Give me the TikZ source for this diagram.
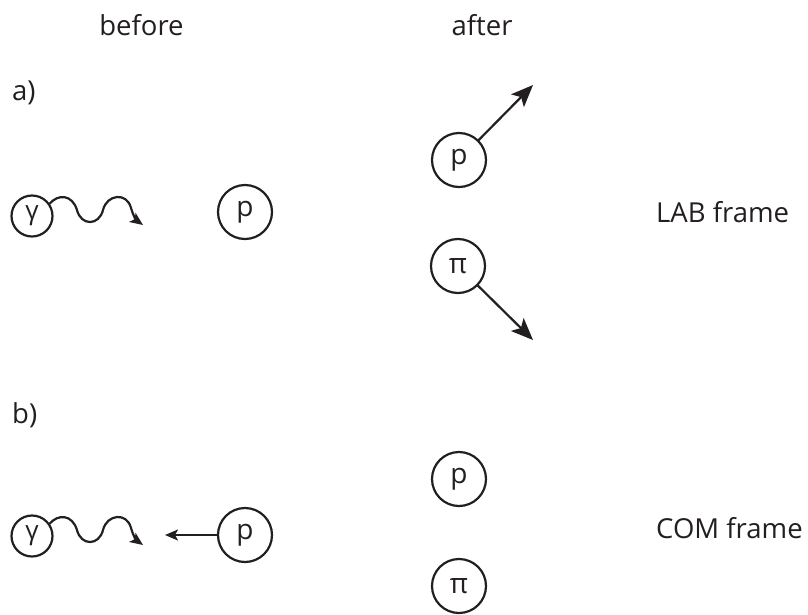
\documentclass[tikz,border=0pt]{standalone}
\usepackage{fontspec}
\setmainfont{Open Sans}
\usetikzlibrary{arrows.meta}
\definecolor{ink}{HTML}{231F20}
\tikzset{
  lbl/.style={font=\fontsize{27.5}{30}\selectfont, inner sep=0pt, text=ink},
  bigp/.style={circle, draw=ink, line width=2.2pt, minimum size=54pt, inner sep=0pt, font=\fontsize{28}{30}\selectfont, text=ink},
  smallg/.style={circle, draw=ink, line width=2.2pt, minimum size=41pt, inner sep=0pt, font=\fontsize{26}{28}\selectfont, text=ink},
  bigarrow/.style={draw=ink, fill=ink, line width=2.2pt, -{Stealth[length=22pt, width=18pt, inset=5pt]}},
  smallarrow/.style={draw=ink, line width=2.2pt, -{Stealth[length=13pt, width=11pt, inset=3pt]}},
}
\begin{document}
\begin{tikzpicture}[x=1pt, y=-1pt, line cap=round]
\useasboundingbox (0,0) rectangle (808,614);
% headers
\node[lbl, anchor=base] (before) at (141.5,35) {before};
\node[lbl, anchor=base] (after) at (482,35) {after};
\node[lbl, anchor=base west] (la) at (12,100) {a)};
\node[lbl, anchor=base west] (lb) at (12,423) {b)};
\node[lbl, anchor=base west] (lab) at (656,222) {LAB frame};
\node[lbl, anchor=base west] (com) at (656,538) {COM frame};
% row a, before
\node[smallg] (gA) at (32,216) {γ};
\node[bigp] (pA) at (245,212) {p};
\coordinate (wA) at (143,225);
\draw[smallarrow] (gA.35) .. controls (58,194) and (72,194) .. (77,210)
  .. controls (81,226) and (99,226) .. (103,210)
  .. controls (107,194) and (127,192) .. (131,208)
  .. controls (133,215) and (136,220) .. (wA);
% row a, after
\node[bigp] (pAa) at (459,160) {p};
\node[bigp] (piAa) at (458,266) {π};
\coordinate (tp) at (533,85);
\coordinate (tpi) at (533,340);
\draw[bigarrow] (pAa) -- (tp);
\draw[bigarrow] (piAa) -- (tpi);
% row b, before
\node[smallg] (gB) at (32,536) {γ};
\node[bigp] (pB) at (245,535) {p};
\coordinate (wB) at (143,545);
\draw[smallarrow] (gB.35) .. controls (58,514) and (72,514) .. (77,530)
  .. controls (81,546) and (99,546) .. (103,530)
  .. controls (107,514) and (127,512) .. (131,528)
  .. controls (133,535) and (136,540) .. (wB);
\coordinate (tB) at (165,535);
\draw[smallarrow] (pB) -- (tB);
% row b, after
\node[bigp] (pBa) at (459,479) {p};
\node[bigp] (piBa) at (459,586) {π};
\end{tikzpicture}
\end{document}
